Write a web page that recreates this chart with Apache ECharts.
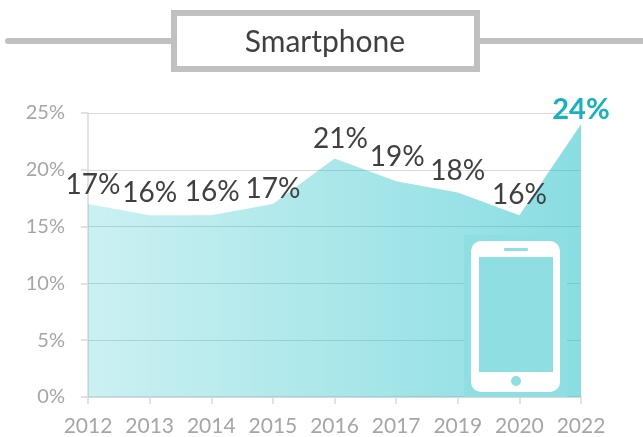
<!DOCTYPE html>
<html>
<head>
<meta charset="utf-8">
<style>html,body{margin:0;padding:0;background:#fff}#c{width:643px;height:437px}</style>
<script src="https://cdn.jsdelivr.net/npm/echarts@6/dist/echarts.min.js"></script>
</head>
<body>
<div id="c"></div>
<script>
const titleText = 'Smartphone';
const categories = ['2012','2013','2014','2015','2016','2017','2019','2020','2022'];
const shareValues = [17,16,16,17,21,19,18,16,24];
const labelShifts = [[5,1],[0,-3],[1,-4],[0,5],[6,0],[1,-5],[0,-2],[0,-1],[0,5]];
const yTicksMax = 25, yTickStep = 5;

const chart = echarts.init(document.getElementById('c'), null, {renderer:'canvas'});
const font = 'Lato, Carlito, "Open Sans", sans-serif';
const grey = '#c0c0c0', patch = '#8fdee2';

chart.setOption({
  animation:false,
  backgroundColor:'#fff',
  grid:{left:88,right:62,top:113,bottom:40,containLabel:false},
  xAxis:{
    type:'category',boundaryGap:false,data:categories,
    axisLine:{lineStyle:{color:'#d9d9d9',width:1.5}},
    axisTick:{show:true,length:7,lineStyle:{color:'#d9d9d9',width:1.5},alignWithLabel:true},
    axisLabel:{color:'#a6a6a6',fontFamily:font,fontSize:21,margin:19,interval:0,hideOverlap:false},
    splitLine:{show:false}
  },
  yAxis:{
    type:'value',min:0,max:yTicksMax,interval:yTickStep,
    axisLine:{show:true,lineStyle:{color:'#d9d9d9',width:1.5}},
    axisTick:{show:true,length:7,lineStyle:{color:'#d9d9d9',width:1.5}},
    axisLabel:{color:'#a6a6a6',fontFamily:font,fontSize:20,margin:23,formatter:'{value}%'},
    splitLine:{show:true,lineStyle:{color:'#d9d9d9',width:1}}
  },
  series:[{
    type:'line',
    data:shareValues.map((v,i)=>({
      value:v,
      label:i===shareValues.length-1
        ?{show:true,position:'top',formatter:'{c}%',color:'#1ab2ba',fontWeight:'bold',fontSize:29,fontFamily:font}
        :{show:true,position:'top',formatter:'{c}%',color:'#404040',fontSize:28,fontFamily:font}
    })),
    showSymbol:true,symbol:'circle',symbolSize:1,
    itemStyle:{color:'rgba(0,0,0,0)'},
    lineStyle:{width:0},
    labelLayout:p=>({hideOverlap:false,dx:labelShifts[p.dataIndex][0],dy:labelShifts[p.dataIndex][1]}),
    areaStyle:{opacity:1,color:new echarts.graphic.LinearGradient(0,0,1,0,[
      {offset:0,color:'rgba(20,188,196,0.22)'},
      {offset:1,color:'rgba(20,188,196,0.50)'}
    ])},
    z:2
  }],
  graphic:[
    {type:'rect',z:1,shape:{x:5,y:38,width:170,height:6,r:3},style:{fill:grey}},
    {type:'rect',z:1,shape:{x:476,y:38,width:167,height:6},style:{fill:grey}},
    {type:'rect',z:2,shape:{x:174,y:13,width:303,height:56},style:{fill:'#fff',stroke:grey,lineWidth:6}},
    {type:'text',z:3,style:{x:325,y:42,text:titleText,fill:'#404040',font:'30px '+font,align:'center',verticalAlign:'middle'}},
    {type:'rect',z:5,shape:{x:464,y:235,width:103,height:162},style:{fill:patch}},
    {type:'rect',z:6,shape:{x:471,y:241,width:89,height:151,r:10},style:{fill:'#fff'}},
    {type:'rect',z:7,shape:{x:479,y:257,width:74,height:115},style:{fill:patch}},
    {type:'rect',z:7,shape:{x:504,y:248,width:24,height:3,r:1},style:{fill:patch}},
    {type:'circle',z:7,shape:{cx:516,cy:381,r:5},style:{fill:patch}}
  ]
});
</script>
</body>
</html>
